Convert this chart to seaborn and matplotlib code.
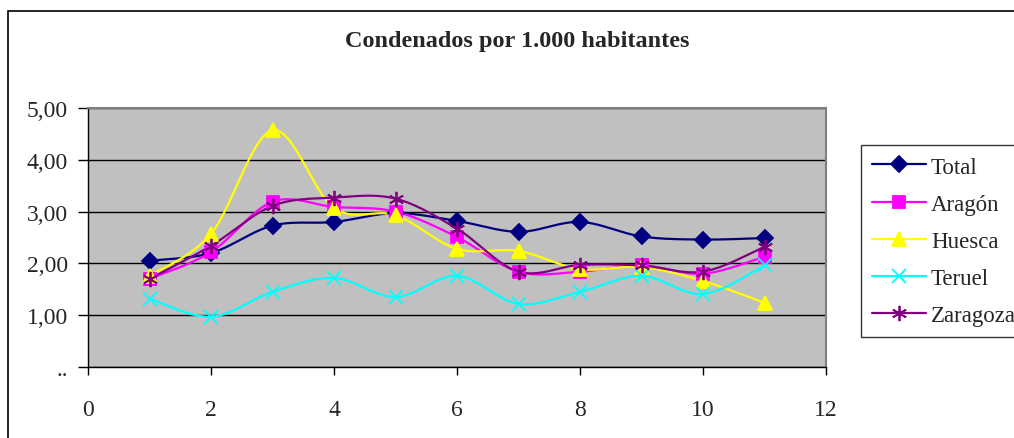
import numpy as np
import pandas as pd
import matplotlib.pyplot as plt
import seaborn as sns
from matplotlib.lines import Line2D
from matplotlib.patches import Rectangle

# datos
anios = [1, 2, 3, 4, 5, 6, 7, 8, 9, 10, 11]
total = [2.05, 2.20, 2.73, 2.80, 2.97, 2.82, 2.61, 2.80, 2.52, 2.46, 2.49]
aragon = [1.70, 2.22, 3.19, 3.09, 3.00, 2.51, 1.84, 1.84, 1.96, 1.80, 2.13]
huesca = [1.76, 2.57, 4.57, 3.07, 2.93, 2.28, 2.24, 1.89, 1.93, 1.66, 1.24]
teruel = [1.32, 0.97, 1.45, 1.72, 1.35, 1.76, 1.22, 1.45, 1.76, 1.41, 1.96]
zaragoza = [1.70, 2.34, 3.11, 3.27, 3.25, 2.67, 1.84, 1.97, 1.96, 1.84, 2.32]

series = [
    ('Total', total, '#000080', 'D', 8),
    ('Aragón', aragon, '#FF00FF', 's', 9),
    ('Huesca', huesca, '#FFFF00', '^', 10),
    ('Teruel', teruel, '#00FFFF', 'x', 10),
    ('Zaragoza', zaragoza, '#800080', (6, 2, 0), 11),
]
y_labels = ['..', '1,00', '2,00', '3,00', '4,00', '5,00']


def smooth(x, y, n=25):
    # curva suavizada tipo Excel (Bezier con tension 1/6)
    pts = np.column_stack([x, y]).astype(float)
    P = np.vstack([pts[0], pts, pts[-1]])
    out = []
    t = np.linspace(0, 1, n)[:, None]
    for i in range(1, len(P) - 2):
        p0, p1, p2, p3 = P[i - 1], P[i], P[i + 1], P[i + 2]
        b1 = p1 + (p2 - p0) / 6
        b2 = p2 - (p3 - p1) / 6
        seg = (1 - t) ** 3 * p1 + 3 * (1 - t) ** 2 * t * b1 + 3 * (1 - t) * t ** 2 * b2 + t ** 3 * p2
        out.append(seg)
    return np.vstack(out)


sns.set_style('white')
plt.rcParams['font.family'] = ['Liberation Serif', 'DejaVu Serif']

fig = plt.figure(figsize=(10.14, 4.39), dpi=100)
ax = fig.add_axes([88 / 1014, 1 - 368 / 439, (826 - 88) / 1014, (368 - 109) / 439])
ax.set_facecolor('#C0C0C0')

# borde exterior del grafico
fig.patches.append(Rectangle((8 / 1014, -0.05), 1.2, 1 - 12 / 439 + 0.05,
                             transform=fig.transFigure, fill=False,
                             edgecolor='black', linewidth=1.2))

handles = []
for name, vals, color, marker, ms in series:
    curve = smooth(anios, vals)
    df = pd.DataFrame({'x': curve[:, 0], 'y': curve[:, 1]})
    sns.lineplot(data=df, x='x', y='y', sort=False, estimator=None,
                 color=color, linewidth=1.6, ax=ax, zorder=3)
    sns.lineplot(x=anios, y=vals, marker=marker, markersize=ms, linestyle='',
                 color=color, markeredgecolor=color, markeredgewidth=1.3,
                 ax=ax, zorder=4)
    handles.append(Line2D([0], [0], color=color, linewidth=1.6, marker=marker,
                          markersize=ms, markeredgecolor=color, markeredgewidth=1.3))

ax.set_xlim(0, 12)
ax.set_ylim(0, 5)
ax.set_xticks(range(0, 13, 2))
ax.set_yticks(range(0, 6))
ax.set_yticklabels(y_labels)
ax.set_xlabel('')
ax.set_ylabel('')
ax.tick_params(axis='both', direction='out', length=7, width=1, color='black',
               labelsize=17, left=True, bottom=True)
ax.tick_params(axis='y', pad=7.5)
ax.tick_params(axis='x', length=6, pad=17)
ax.grid(axis='y', color='black', linewidth=1)
ax.set_axisbelow(True)

for side in ['top', 'right']:
    ax.spines[side].set_color('#808080')
    ax.spines[side].set_linewidth(1.5)
for side in ['left', 'bottom']:
    ax.spines[side].set_color('black')
    ax.spines[side].set_linewidth(1)

fig.text(517 / 1014, 1 - 42 / 439, 'Condenados por 1.000 habitantes',
         ha='center', va='center', fontsize=17.5, fontweight='bold')

leg = fig.legend(handles, [s[0] for s in series], loc='upper left',
                 bbox_to_anchor=(861 / 1014, 1 - 146 / 439), fontsize=16.5,
                 frameon=True, fancybox=False, handlelength=2.35,
                 handletextpad=0.2, labelspacing=0.7, borderpad=0.5,
                 borderaxespad=0)
leg.get_frame().set_edgecolor('black')
leg.get_frame().set_linewidth(1)

fig.savefig('out.png', dpi=100)
